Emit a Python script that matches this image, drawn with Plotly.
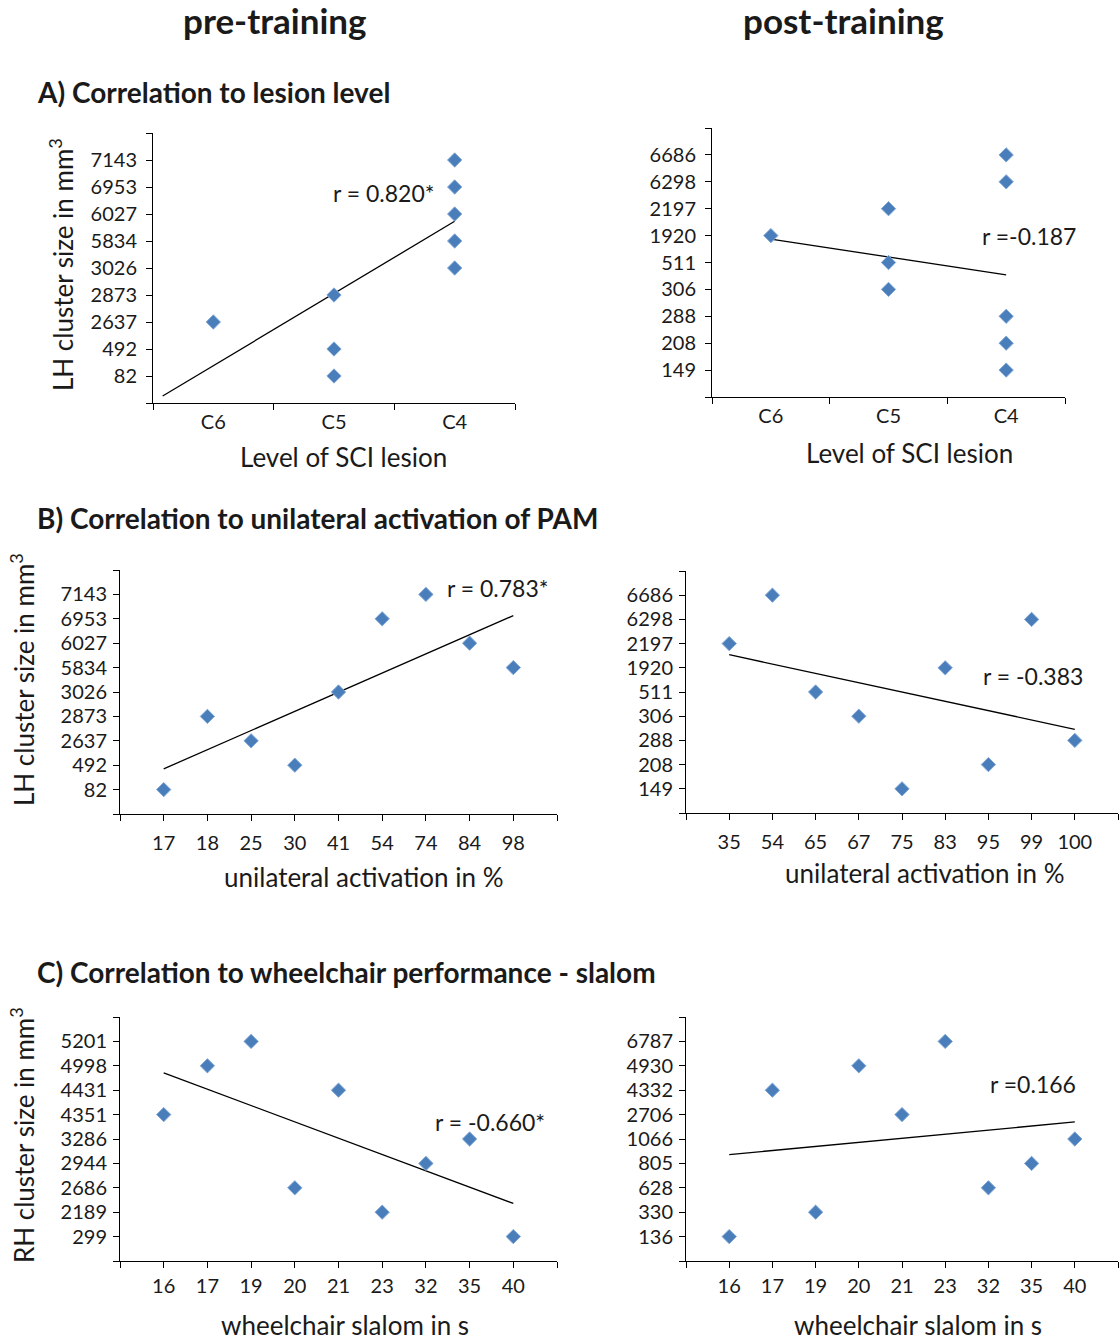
import plotly.graph_objects as go

W, H = 1120, 1340
FONT = "Lato"

# ---------------- data ----------------
lesion_levels = ["C6", "C5", "C4"]

A_pre_yticks = [82, 492, 2637, 2873, 3026, 5834, 6027, 6953, 7143]
A_pre_x = ["C6", "C5", "C5", "C5", "C4", "C4", "C4", "C4", "C4"]
A_pre_y = [2637, 2873, 492, 82, 7143, 6953, 6027, 5834, 3026]
A_pre_trend_x = [0.58, 3.0]     # ordinal positions
A_pre_trend_y = [0.26, 6.73]

A_post_yticks = [149, 208, 288, 306, 511, 1920, 2197, 6298, 6686]
A_post_x = ["C6", "C5", "C5", "C5", "C4", "C4", "C4", "C4", "C4"]
A_post_y = [1920, 2197, 511, 306, 6686, 6298, 288, 208, 149]
A_post_trend_x = [1.0, 3.0]
A_post_trend_y = [5.87, 4.54]

B_pre_xticks = [17, 18, 25, 30, 41, 54, 74, 84, 98]
B_pre_yticks = [82, 492, 2637, 2873, 3026, 5834, 6027, 6953, 7143]
B_pre_x = [17, 18, 25, 30, 41, 54, 74, 84, 98]
B_pre_y = [82, 2873, 2637, 492, 3026, 6953, 7143, 6027, 5834]
B_pre_trend_x = [1.0, 9.0]
B_pre_trend_y = [1.85, 8.13]

B_post_xticks = [35, 54, 65, 67, 75, 83, 95, 99, 100]
B_post_yticks = [149, 208, 288, 306, 511, 1920, 2197, 6298, 6686]
B_post_x = [35, 54, 65, 67, 75, 83, 95, 99, 100]
B_post_y = [2197, 6686, 511, 306, 149, 1920, 208, 6298, 288]
B_post_trend_x = [1.0, 9.0]
B_post_trend_y = [6.54, 3.46]

C_pre_xticks = [16, 17, 19, 20, 21, 23, 32, 35, 40]
C_pre_yticks = [299, 2189, 2686, 2944, 3286, 4351, 4431, 4998, 5201]
C_pre_x = [16, 17, 19, 20, 21, 23, 32, 35, 40]
C_pre_y = [4351, 4998, 5201, 2686, 4431, 2189, 2944, 3286, 299]
C_pre_trend_x = [1.0, 9.0]
C_pre_trend_y = [7.71, 2.36]

C_post_xticks = [16, 17, 19, 20, 21, 23, 32, 35, 40]
C_post_yticks = [136, 330, 628, 805, 1066, 2706, 4332, 4930, 6787]
C_post_x = [16, 17, 19, 20, 21, 23, 32, 35, 40]
C_post_y = [136, 4332, 330, 4930, 2706, 6787, 628, 805, 1066]
C_post_trend_x = [1.0, 9.0]
C_post_trend_y = [4.36, 5.70]

r_labels = ["r = 0.820*", "r =-0.187", "r = 0.783*", "r = -0.383", "r = -0.660*", "r =0.166"]

# ---------------- helpers ----------------
def px(x):
    return x / W

def py(y):
    return 1 - y / H

def ordinal(values, ticks):
    return [ticks.index(v) + 1 for v in values]

fig = go.Figure()

panels = [
    dict(name="1", xd=(153, 515), yd=(133, 403)),
    dict(name="2", xd=(712, 1065), yd=(128, 397)),
    dict(name="3", xd=(120, 557), yd=(570, 814)),
    dict(name="4", xd=(686, 1118), yd=(571, 813)),
    dict(name="5", xd=(120, 557), yd=(1017, 1261)),
    dict(name="6", xd=(686, 1118), yd=(1017, 1261)),
]

series = [
    (ordinal(A_pre_x, lesion_levels), ordinal(A_pre_y, A_pre_yticks), A_pre_trend_x, A_pre_trend_y),
    (ordinal(A_post_x, lesion_levels), ordinal(A_post_y, A_post_yticks), A_post_trend_x, A_post_trend_y),
    (ordinal(B_pre_x, B_pre_xticks), ordinal(B_pre_y, B_pre_yticks), B_pre_trend_x, B_pre_trend_y),
    (ordinal(B_post_x, B_post_xticks), ordinal(B_post_y, B_post_yticks), B_post_trend_x, B_post_trend_y),
    (ordinal(C_pre_x, C_pre_xticks), ordinal(C_pre_y, C_pre_yticks), C_pre_trend_x, C_pre_trend_y),
    (ordinal(C_post_x, C_post_xticks), ordinal(C_post_y, C_post_yticks), C_post_trend_x, C_post_trend_y),
]
yticks_all = [A_pre_yticks, A_post_yticks, B_pre_yticks, B_post_yticks, C_pre_yticks, C_post_yticks]
xticks_all = [None, None, B_pre_xticks, B_post_xticks, C_pre_xticks, C_post_xticks]
y_standoff = [5, 5, 2, 2, 2, 2]
x_standoff = [1, 1, 5, 5, 1, 1]

tickfont = dict(family=FONT, size=20, color="#1a1a1a")
common = dict(showgrid=False, zeroline=False, showline=True, linecolor="black", linewidth=1,
              tickcolor="black", tickwidth=1, tickfont=tickfont)
layout_axes = {}
for i, (p, s) in enumerate(zip(panels, series)):
    n = p["name"]
    xa = "x" if n == "1" else "x" + n
    ya = "y" if n == "1" else "y" + n
    xs, ys, tx, ty = s
    fig.add_trace(go.Scatter(x=tx, y=ty, mode="lines", line=dict(color="black", width=1.3),
                             xaxis=xa, yaxis=ya, hoverinfo="skip"))
    fig.add_trace(go.Scatter(x=xs, y=ys, mode="markers",
                             marker=dict(symbol="diamond", size=11, color="#4a7ebb",
                                         line=dict(color="#7fa6d6", width=1)),
                             xaxis=xa, yaxis=ya))
    yt = yticks_all[i]
    yaxis = dict(domain=[py(p["yd"][1]), py(p["yd"][0])], range=[0, 10],
                 tickmode="array", tickvals=list(range(1, 10)), ticktext=[str(v) for v in yt],
                 ticks="outside", ticklen=6,
                 minor=dict(tickmode="array", tickvals=[0, 10], ticks="outside", ticklen=6,
                            tickcolor="black", tickwidth=1),
                 anchor=xa, ticklabelstandoff=y_standoff[i], **common)
    if i < 2:
        xaxis = dict(domain=[px(p["xd"][0]), px(p["xd"][1])], range=[0.5, 3.5],
                     tickmode="array", tickvals=[1, 2, 3], ticktext=lesion_levels, ticks="",
                     minor=dict(tickmode="array", tickvals=[0.5, 1.5, 2.5, 3.5], ticks="outside",
                                ticklen=6, tickcolor="black", tickwidth=1),
                     anchor=ya, ticklabelstandoff=x_standoff[i], **common)
    else:
        xt = xticks_all[i]
        xaxis = dict(domain=[px(p["xd"][0]), px(p["xd"][1])], range=[0, 10],
                     tickmode="array", tickvals=list(range(1, 10)), ticktext=[str(v) for v in xt],
                     ticks="outside", ticklen=6,
                     minor=dict(tickmode="array", tickvals=[0, 10], ticks="outside", ticklen=6,
                                tickcolor="black", tickwidth=1),
                     anchor=ya, ticklabelstandoff=x_standoff[i], **common)
    layout_axes["xaxis" if n == "1" else "xaxis" + n] = xaxis
    layout_axes["yaxis" if n == "1" else "yaxis" + n] = yaxis

fig.update_layout(**layout_axes)

ann = []
def text(x, y, t, size, bold=False, xanchor="center", angle=0):
    ann.append(dict(x=px(x), y=py(y), xref="paper", yref="paper", text=("<b>%s</b>" % t) if bold else t,
                    showarrow=False, xanchor=xanchor, yanchor="middle", textangle=angle,
                    font=dict(family=FONT, size=size, color="#1a1a1a")))

text(275, 20, "pre-training", 35, bold=True)
text(843, 20, "post-training", 35, bold=True)
text(35, 92, "A) Correlation to lesion level", 28, bold=True, xanchor="left")
text(35, 518, "B) Correlation to unilateral activation of PAM", 28, bold=True, xanchor="left")
text(35, 972, "C) Correlation to wheelchair performance - slalom", 28, bold=True, xanchor="left")

AX = 26
text(343, 457, "Level of SCI lesion", AX)
text(909, 453, "Level of SCI lesion", AX)
text(364, 877, "unilateral activation in %", AX)
text(925, 873, "unilateral activation in %", AX)
text(345, 1325, "wheelchair slalom in s", AX)
text(918, 1325, "wheelchair slalom in s", AX)

text(62, 265, "LH cluster size in mm<sup>3</sup>", AX, angle=-90)
text(22, 680, "LH cluster size in mm<sup>3</sup>", AX, angle=-90)
text(22, 1135, "RH cluster size in mm<sup>3</sup>", AX, angle=-90)

r_pos = [(384, 193), (1029, 236), (498, 588), (1033, 676), (490, 1122), (1033, 1084)]
for (x, y), t in zip(r_pos, r_labels):
    text(x, y, t, 23)

fig.update_layout(annotations=ann, width=W, height=H, margin=dict(l=0, r=0, t=0, b=0),
                  showlegend=False, plot_bgcolor="white", paper_bgcolor="white")

fig.write_html("out.html")
